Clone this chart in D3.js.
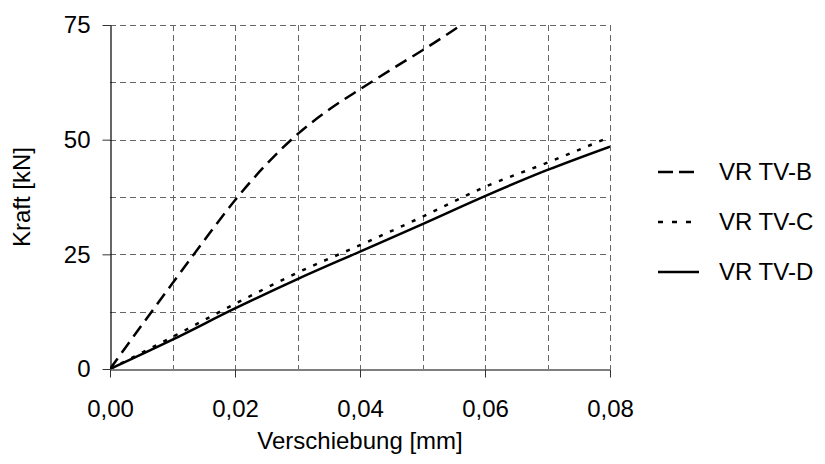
<!DOCTYPE html>
<html>
<head>
<meta charset="utf-8">
<script src="https://cdn.jsdelivr.net/npm/d3@7"></script>
<style>
  body { margin: 0; background: #fff; }
  svg text { font-family: "Liberation Sans", Arial, sans-serif; fill: #000; }
</style>
</head>
<body>
<svg id="chart" width="825" height="464"></svg>
<script>
// data
const xTicks = [0, 0.02, 0.04, 0.06, 0.08];
const yTicks = [0, 25, 50, 75];
const xGrid = [0.01, 0.02, 0.03, 0.04, 0.05, 0.06, 0.07, 0.08];
const yGrid = [12.5, 25, 37.5, 50, 62.5, 75];

const seriesNames = ["VR TV-B", "VR TV-C", "VR TV-D"];
const tvB_x = [0, 0.005, 0.01, 0.015, 0.02, 0.025, 0.03, 0.035, 0.04, 0.045, 0.05, 0.055, 0.0562];
const tvB_y = [0, 9.4, 18.7, 27.9, 36.8, 44.6, 51.2, 56.5, 61.0, 65.3, 69.5, 73.9, 75];
const tvC_x = [0, 0.01, 0.02, 0.03, 0.04, 0.05, 0.06, 0.07, 0.08];
const tvC_y = [0, 7.0, 14.2, 21.0, 27.0, 33.2, 39.7, 45.0, 50.6];
const tvD_x = [0, 0.01, 0.02, 0.03, 0.04, 0.05, 0.06, 0.07, 0.08];
const tvD_y = [0, 6.4, 13.2, 19.6, 25.6, 31.6, 37.7, 43.4, 48.5];

const svg = d3.select("#chart");
const mLeft = 110, mRight = 610, mTop = 25, mBottom = 369;

const x = d3.scaleLinear().domain([0, 0.08]).range([mLeft, mRight]);
const y = d3.scaleLinear().domain([0, 75]).range([mBottom, mTop]);
const fmtX = v => d3.format(".2f")(v).replace(".", ",");

// grid
const grid = svg.append("g").attr("stroke", "#666").attr("stroke-width", 1)
  .attr("stroke-dasharray", "6,4");
grid.selectAll(".vx").data(xGrid).enter().append("line")
  .attr("x1", d => Math.round(x(d)) + 0.5).attr("x2", d => Math.round(x(d)) + 0.5)
  .attr("y1", mTop).attr("y2", mBottom);
grid.selectAll(".hy").data(yGrid).enter().append("line")
  .attr("x1", mLeft).attr("x2", mRight)
  .attr("y1", d => Math.round(y(d)) + 0.5).attr("y2", d => Math.round(y(d)) + 0.5);

// axes
const xAxis = svg.append("g").attr("transform", "translate(0," + (mBottom + 0.5) + ")")
  .call(d3.axisBottom(x).tickValues(xTicks).tickSize(8).tickSizeOuter(0).tickFormat(fmtX).tickPadding(22));
xAxis.select(".domain").attr("stroke", "#555").attr("stroke-width", 1.6);
xAxis.selectAll(".tick line").attr("stroke", "#333");
xAxis.selectAll("text").attr("font-size", 24);

const yAxis = svg.append("g").attr("transform", "translate(" + (mLeft + 0.5) + ",0)")
  .call(d3.axisLeft(y).tickValues(yTicks).tickSize(8).tickSizeOuter(0).tickPadding(12));
yAxis.select(".domain").attr("stroke", "#000").attr("stroke-width", 1.2);
yAxis.selectAll(".tick line").attr("stroke", "#333");
yAxis.selectAll("text").attr("font-size", 24);
svg.selectAll(".tick text").attr("font-family", "Liberation Sans, Arial, sans-serif");

// curves
svg.append("clipPath").attr("id", "clip").append("rect")
  .attr("x", mLeft).attr("y", mTop).attr("width", mRight - mLeft).attr("height", mBottom - mTop);
const line = d3.line().x(d => x(d[0])).y(d => y(d[1])).curve(d3.curveMonotoneX);
const series = [
  { name: seriesNames[0], pts: d3.zip(tvB_x, tvB_y), dash: "13,7" },
  { name: seriesNames[1], pts: d3.zip(tvC_x, tvC_y), dash: "4,8" },
  { name: seriesNames[2], pts: d3.zip(tvD_x, tvD_y), dash: null }
];
svg.append("g").attr("clip-path", "url(#clip)").selectAll("path").data(series).enter().append("path")
  .attr("d", d => line(d.pts)).attr("fill", "none").attr("stroke", "#000")
  .attr("stroke-width", 2.5).attr("stroke-dasharray", d => d.dash);

// legend
const leg = svg.append("g").selectAll("g").data(series).enter().append("g")
  .attr("transform", (d, i) => "translate(658," + (172 + i * 50) + ")");
leg.append("line").attr("x1", 0).attr("x2", 41).attr("stroke", "#000").attr("stroke-width", 2.5)
  .attr("stroke-dasharray", (d, i) => i === 0 ? "15,6" : i === 1 ? "5,9" : null);
leg.append("text").attr("x", 61).attr("dy", "0.35em").attr("font-size", 24).text(d => d.name);

// titles
svg.append("text").attr("x", (mLeft + mRight) / 2).attr("y", 449).attr("text-anchor", "middle")
  .attr("font-size", 24).text("Verschiebung [mm]");
svg.append("text").attr("transform", "translate(30," + ((mTop + mBottom) / 2) + ") rotate(-90)")
  .attr("text-anchor", "middle").attr("font-size", 24).text("Kraft [kN]");
</script>
</body>
</html>
